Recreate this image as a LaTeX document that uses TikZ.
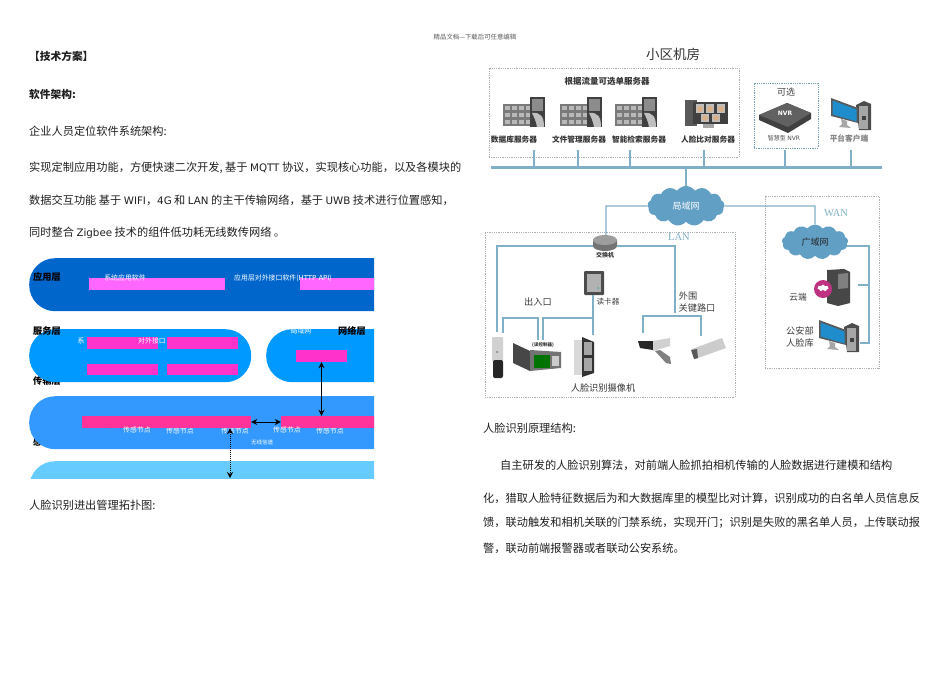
\documentclass[tikz,border=0pt]{standalone}
\usepackage{fontspec}
\setmainfont{Noto Sans CJK SC}
\newfontfamily\lat{DejaVu Sans}
\newfontfamily\latser{Liberation Serif}
\usetikzlibrary{arrows.meta,shapes.geometric,shapes.symbols}
\newcommand{\zc}{\symbol{"FF0C}}
\newcommand{\zs}{\symbol{"FF1B}}
\definecolor{appblue}{HTML}{0066CC}
\definecolor{svcblue}{HTML}{0099FF}
\definecolor{trablue}{HTML}{3399FF}
\definecolor{senblue}{HTML}{66CCFF}
\definecolor{pinkA}{HTML}{FF66FF}
\definecolor{pinkB}{HTML}{FF33CC}
\definecolor{pinkC}{HTML}{FF3399}
\definecolor{wire}{HTML}{7FB0C8}
\definecolor{cloudblue}{HTML}{629FC4}
\definecolor{boxgray}{HTML}{A9B0B2}
\definecolor{labelgray}{HTML}{3C3C3C}
\definecolor{screenblue}{HTML}{1F8CCC}
\begin{document}
\begin{tikzpicture}[x=1pt,y=-1pt,node distance=80pt,
    para/.style={anchor=west,inner sep=0,text=black!88,font=\fontsize{11.2}{13}\selectfont},
    parabold/.style={para,font=\fontsize{10.7}{13}\selectfont\bfseries},
    band/.style={anchor=north west,rounded corners=26pt,minimum height=53pt,inner sep=0},
    pinkbar/.style={inner sep=0,minimum height=12pt},
    layer/.style={inner sep=0,text=black,font=\fontsize{9.2}{10}\selectfont\bfseries},
    bandtxt/.style={inner sep=0,text=white,font=\fontsize{6.9}{8}\selectfont},
    devtxt/.style={inner sep=0,text=labelgray,font=\fontsize{9.2}{12}\selectfont},
    srvtxt/.style={inner sep=0,text=black!80,font=\fontsize{7.7}{9}\selectfont\bfseries},
    dotbox/.style={draw=boxgray,densely dotted,line width=0.8pt},
    link/.style={draw=wire,line width=1.1pt},
    netcloud/.style={cloud,cloud puffs=13,cloud puff arc=110,aspect=2,fill=cloudblue,draw=none,inner sep=0,font=\fontsize{9}{10}\selectfont},
    duplex/.style={<->,>={Stealth[length=6pt,width=6pt]},line width=1pt,black},
    server/.pic={
      \fill[black!52] (0,7) rectangle (29,29);
      \foreach \r in {9,16,23} \foreach \c in {2,9,16,23}
        \fill[black!28] (\c,\r) rectangle ++(5,4);
      \fill[black!75] (27,0) rectangle (42,30);
      \fill[black!45] (29,2) rectangle (40,14);
      \fill[black!25] (29,16) .. controls (38,15) and (41,20) .. (41,30) -- (34,30) .. controls (33,24) and (31,20) .. (29,16);
    },
    pcset/.pic={
      \fill[black!70] (25,7) -- (33,3) -- (40,6) -- (40,32) -- (28,32) -- cycle;
      \fill[black!35] (28,8) rectangle (37,31);
      \fill[black!75] (31,18) rectangle (35,22);
      \fill[black!65] (0,0) -- (27,10) -- (27,25) -- (0,18) -- cycle;
      \fill[screenblue] (1.5,2.5) -- (25.5,11.5) -- (25.5,23.5) -- (1.5,16.5) -- cycle;
      \fill[black!35] (10,21) -- (16,23) -- (16,27) -- (20,30) -- (8,29) -- (11,26) -- cycle;
    }]
\useasboundingbox (0,0) rectangle (950,672);
% page text
\node[inner sep=0,text=black!65,font=\fontsize{6.4}{7}\selectfont] (pagehead) at (475,37) {精品文档---下载后可任意编辑};
\node[parabold] (title) at (29,56) {【技术方案】};
\node[parabold] (softarch) at (29,94) {软件架构:};
\node[para] (linea) at (29,131) {企业人员定位软件系统架构:};
\node[para] (lineb) at (29,168) {实现定制应用功能\zc{}方便快速二次开发, 基于 {\lat\fontsize{10.3}{13}\selectfont MQTT} 协议\zc{}实现核心功能\zc{}以及各模块的};
\node[para] (linec) at (29,200) {数据交互功能 基于 {\lat\fontsize{10.3}{13}\selectfont WIFI}\zc{}{\lat\fontsize{10.3}{13}\selectfont 4G} 和 {\lat\fontsize{10.3}{13}\selectfont LAN} 的主干传输网络\zc{}基于 {\lat\fontsize{10.3}{13}\selectfont UWB} 技术进行位置感知\zc{}};
\node[para] (lined) at (29,233) {同时整合 {\lat\fontsize{10.3}{13}\selectfont Zigbee} 技术的组件低功耗无线数传网络 。};
\node[para] (linee) at (29,505) {人脸识别进出管理拓扑图:};
\node[para] (linef) at (483,428) {人脸识别原理结构:};
\node[para] (lineg) at (500,465) {自主研发的人脸识别算法\zc{}对前端人脸抓拍相机传输的人脸数据进行建模和结构};
\node[para] (lineh) at (483,498) {化\zc{}猎取人脸特征数据后为和大数据库里的模型比对计算\zc{}识别成功的白名单人员信息反};
\node[para] (linei) at (483,523) {馈\zc{}联动触发和相机关联的门禁系统\zc{}实现开门\zs{}识别是失败的黑名单人员\zc{}上传联动报};
\node[para] (linej) at (483,548) {警\zc{}联动前端报警器或者联动公安系统。};
% layer diagram, cut off at its right and lower edge
\begin{scope}
\clip (0,250) rectangle (374,478);
\node[layer] (lblsense) at (47,442) {感知层};
\node[layer] (lbltrans) at (47,381) {传输层};
\node[band,fill=appblue,minimum width=500pt] (appband) at (29,258) {};
\node[band,fill=svcblue,minimum width=222pt] (svcband) at (29,329) {};
\node[band,fill=svcblue,minimum width=300pt] (netband) at (266,329) {};
\node[band,fill=trablue,minimum width=500pt] (traband) at (29,396) {};
\node[band,fill=senblue,minimum width=500pt] (senband) at (29,461) {};
\node[layer] (lblapp) at (47,277) {应用层};
\node[layer] (lblsvc) at (47,331) {服务层};
\node[layer] (lblnet) at (352,331) {网络层};
\node[pinkbar,fill=pinkA,minimum width=136pt] (appa) at (157,284) {};
\node[pinkbar,fill=pinkA,minimum width=136pt] (appb) at (368,284) {};
\node[bandtxt] (apptxta) at (125,278) {系统应用软件};
\node[bandtxt] (apptxtb) at (283,278) {应用层对外接口软件({\lat HTTP API})};
\node[bandtxt] (svctxta) at (81,341) {系};
\node[pinkbar,fill=pinkB,minimum width=71pt] (svca) at (122.5,343) {};
\node[pinkbar,fill=pinkB,minimum width=71pt,right of=svca] (svcb) {};
\node[pinkbar,fill=pinkB,minimum width=71pt,minimum height=11pt] (svcc) at (122.5,369.5) {};
\node[pinkbar,fill=pinkB,minimum width=71pt,minimum height=11pt,right of=svcc] (svcd) {};
\node[bandtxt] (svctxtb) at (152,341) {对外接口};
\node[bandtxt] (nettxt) at (301,331) {局域网};
\node[pinkbar,fill=pinkB,minimum width=51pt] (neta) at (321.5,356) {};
\node[pinkbar,fill=pinkB,minimum width=51pt,right of=neta] (netb) {};
\node[bandtxt] (sentxtb) at (180,431) {传感节点};
\node[bandtxt] (sentxtc) at (235,431) {传感节点};
\node[bandtxt] (sentxte) at (330,431) {传感节点};
\node[pinkbar,fill=pinkC,minimum width=169pt] (traa) at (166.5,422) {};
\node[pinkbar,fill=pinkC,minimum width=160pt] (trab) at (361,422) {};
\node[bandtxt] (sentxta) at (137,430) {传感节点};
\node[bandtxt] (sentxtd) at (287,430) {传感节点};
\node[bandtxt,text=black!45] (dotsa) at (111,430) {…};
\node[bandtxt,text=black!45] (dotsb) at (260,430) {…};
\node[bandtxt,font=\fontsize{5.5}{6}\selectfont] (chantxt) at (262,442) {无线信道};
\coordinate (chanend) at (230,478);
\draw[duplex] (traa) -- (trab);
\draw[duplex] (neta.south) -- (neta.south |- trab.north);
\draw[duplex,densely dotted] (traa.south -| chanend) -- (chanend);
\end{scope}
% community machine room
\node[inner sep=0,text=black!80,font=\fontsize{13.5}{17}\selectfont] (roomtitle) at (673,54) {小区机房};
\node[dotbox,minimum width=250pt,minimum height=89pt,inner sep=0] (srvbox) at (614,112.5) {};
\node[srvtxt,font=\fontsize{8.5}{10}\selectfont\bfseries] (srvhead) at (607,81) {根据流量可选单服务器};
\pic at (503,97) {server};
\pic at (560,97) {server};
\pic at (615,97) {server};
% face compare server
\fill[black!65] (685,100) rectangle (697,126);
\fill[black!75] (693,102) rectangle (728,124);
\foreach \fx in {700,710,721} {
  \fill[black!25] (\fx-4,104) rectangle (\fx+4,113);
  \fill[brown!60!white] (\fx,109) circle (3.2pt);
}
\foreach \fx in {705,716} {
  \fill[black!25] (\fx-4,114) rectangle (\fx+4,122);
  \fill[brown!60!white] (\fx,118) circle (3pt);
}
\fill[black!35] (703,124) rectangle (714,128);
\node[srvtxt] (srvlbla) at (514,140) {数据库服务器};
\node[srvtxt] (srvlblb) at (579,140) {文件管理服务器};
\node[srvtxt] (srvlblc) at (639,140) {智能检索服务器};
\node[srvtxt] (srvlbld) at (708,140) {人脸比对服务器};
% optional recorder
\node[dotbox,draw=wire!90!black,minimum width=64pt,minimum height=65pt,inner sep=0] (nvrbox) at (786,115.5) {};
\node[inner sep=0,text=black!75,font=\fontsize{9}{10}\selectfont] (nvropt) at (786,92) {可选};
\fill[black!75] (759,115) -- (787,103) -- (811,113) -- (811,119) -- (788,133) -- (759,120) -- cycle;
\fill[black!62] (759,115) -- (787,103) -- (811,113) -- (788,127) -- cycle;
\node[inner sep=0,text=white,font=\fontsize{6}{7}\selectfont\bfseries] (nvrtxt) at (785,113) {\lat NVR};
\node[inner sep=0,text=black!70,font=\fontsize{6}{8}\selectfont] (nvrlbl) at (784,138) {智慧型 {\lat NVR}};
\pic at (831,98) {pcset};
\node[inner sep=0,text=black!50,font=\fontsize{7.7}{9}\selectfont\bfseries] (pclbl) at (849,139) {平台客户端};
% backbone
\coordinate (busl) at (491,167);
\coordinate (busr) at (882,167);
\foreach \n/\x in {a/534,b/578,c/630,d/704,e/785,f/851} {
  \coordinate (droptop\n) at (\x,150);
  \coordinate (dropbot\n) at (\x,167);
  \draw[link] (droptop\n) -- (dropbot\n);
}
\draw[wire,line width=3pt] (busl) -- (busr);
\node[dotbox,minimum width=250pt,minimum height=165pt,inner sep=0] (lanbox) at (610,314.5) {};
\node[dotbox,minimum width=114pt,minimum height=172pt,inner sep=0] (wanbox) at (822,282) {};
\node[inner sep=0,text=wire,font=\fontsize{10.5}{14}\selectfont\latser] (lantxt) at (679,237) {LAN};
\node[inner sep=0,text=wire,font=\fontsize{10.5}{14}\selectfont\latser] (wantxt) at (836,213) {WAN};
\coordinate (wanright) at (869,246);
\coordinate (wanstart) at (840,246);
\coordinate (wanmid) at (869,285);
\coordinate (wanmidl) at (858,285);
\coordinate (wanbot) at (869,343);
\coordinate (wanbotl) at (860,343);
\draw[link] (wanstart) -- (wanright) -- (wanbot) -- (wanbotl);
\draw[link] (wanmidl) -- (wanmid);
\node[netcloud,minimum width=77pt,minimum height=40pt,text=white] (lancloud) at (686,206) {局域网};
\node[netcloud,minimum width=66pt,minimum height=35pt,text=black!85] (wancloud) at (815,242) {广域网};
\coordinate (busdrop) at (686,167);
\draw[link] (busdrop) -- (lancloud.north);
% switch
\fill[black!55] (593,240) -- (593,246) arc[start angle=180,end angle=360,x radius=12pt,y radius=5pt] -- (617,240) -- cycle;
\node[ellipse,fill=black!38,minimum width=24pt,minimum height=10pt,inner sep=0] (router) at (605,240) {};
\node[inner sep=0,text=black!80,font=\fontsize{6}{7}\selectfont\bfseries] (routerlbl) at (605,255) {交换机};
\coordinate (lanturn) at (606,206);
\draw[link] (lancloud.west) -- (lanturn) -- (router.north -| lanturn);
\coordinate (wanturn) at (815,206);
\draw[link] (lancloud.east) -- (wanturn) -- (wancloud.north);
\coordinate (routerl) at (593,246);
\coordinate (routerr) at (617,246);
\coordinate (leftdown) at (497,246);
\coordinate (leftend) at (497,332);
\coordinate (rightdown) at (675,246);
\coordinate (rightend) at (675,313);
\draw[link] (routerl) -- (leftdown) -- (leftend);
\draw[link] (routerr) -- (rightdown) -- (rightend);
% entrance devices
\node[devtxt] (gatelbl) at (538,302) {出入口};
\node[fill=black!70,minimum width=20pt,minimum height=24pt,inner sep=0,rounded corners=1pt] (reader) at (594,283) {};
\fill[black!30] (587,274) rectangle (601,292);
\fill[teal!70] (598,288) circle (1pt);
\node[inner sep=0,text=black!75,font=\fontsize{7.6}{9}\selectfont] (readerlbl) at (608,302) {读卡器};
\coordinate (readerjoin) at (593,318);
\coordinate (readerdown) at (593,335);
\coordinate (ctrlright) at (543,318);
\coordinate (ctrlrighte) at (543,340);
\coordinate (ctrllefta) at (503,333);
\coordinate (ctrlleftb) at (503,318);
\coordinate (ctrlleftc) at (538,318);
\coordinate (ctrlleftd) at (538,340);
\draw[link] (reader.south -| readerdown) -- (readerdown);
\draw[link] (readerjoin) -- (ctrlright) -- (ctrlrighte);
\draw[link] (ctrllefta) -- (ctrlleftb) -- (ctrlleftc) -- (ctrlleftd);
\coordinate (campl) at (643,333);
\coordinate (camtl) at (643,316);
\coordinate (camtr) at (701,316);
\coordinate (campr) at (701,336);
\draw[link] (campl) -- (camtl) -- (camtr) -- (campr);
\node[devtxt] (roada) at (688,296) {外围};
\node[devtxt] (roadb) at (697,308) {关键路口};
% box camera
\fill[black!18,rounded corners=1pt] (492,337) rectangle (503,362);
\fill[black!55] (497,352) circle (1pt);
\fill[black!85,rounded corners=2pt] (493,360) rectangle (503,378);
% controller
\fill[black!72] (513,343) -- (530,351) -- (530,371) -- (513,363) -- cycle;
\fill[black!55] (530,350) -- (561,352) -- (561,368) -- (530,371) -- cycle;
\fill[green!45!black] (534,355) rectangle (550,368);
\fill[black!20] (552,356) rectangle (559,366);
\node[inner sep=0,text=black!80,font=\fontsize{4.5}{5}\selectfont\bfseries] (ctrllbl) at (543,345) {(读控制器)};
% door
\fill[black!15] (574,340) rectangle (582,375);
\fill[black!80] (582,337) -- (594,342) -- (594,373) -- (582,377) -- cycle;
\fill[black!35] (584,342) rectangle (592,355);
\fill[black!35] (584,358) rectangle (592,371);
\node[inner sep=0,text=black!80,font=\fontsize{9.2}{12}\selectfont] (facecam) at (603,388) {人脸识别摄像机};
% road cameras
\fill[black!85] (638,341) -- (653,341) -- (653,350) -- (640,348) -- cycle;
\fill[black!18] (653,341) -- (670,338) -- (670,346) -- (653,351) -- cycle;
\fill[black!50] (655,351) -- (660,350) -- (670,357) -- (671,364) -- (666,363) -- cycle;
\fill[black!20] (692,349) -- (722,338) -- (726,348) -- (695,359) -- cycle;
\fill[black!65] (691,350) -- (697,349) -- (698,358) -- (694,359) -- cycle;
% cloud side
\fill[black!72] (827,270) -- (844,269) -- (850,272) -- (850,303) -- (838,306) -- (827,303) -- cycle;
\fill[black!50] (838,274) -- (848,273) -- (848,288) -- (838,289) -- cycle;
\node[circle,fill=magenta!75!black,minimum size=18pt,inner sep=0] (cloudicon) at (823,289) {};
\node[cloud,cloud puffs=7,aspect=1.6,fill=white,minimum width=11pt,minimum height=7pt,inner sep=0] (cloudmark) at (823,288) {};
\node[devtxt,font=\fontsize{8.7}{10}\selectfont] (cloudlbl) at (798,297) {云端};
\pic at (819,320) {pcset};
\node[devtxt] (psba) at (800,331) {公安部};
\node[devtxt] (psbb) at (800,343) {人脸库};
\end{tikzpicture}
\end{document}
